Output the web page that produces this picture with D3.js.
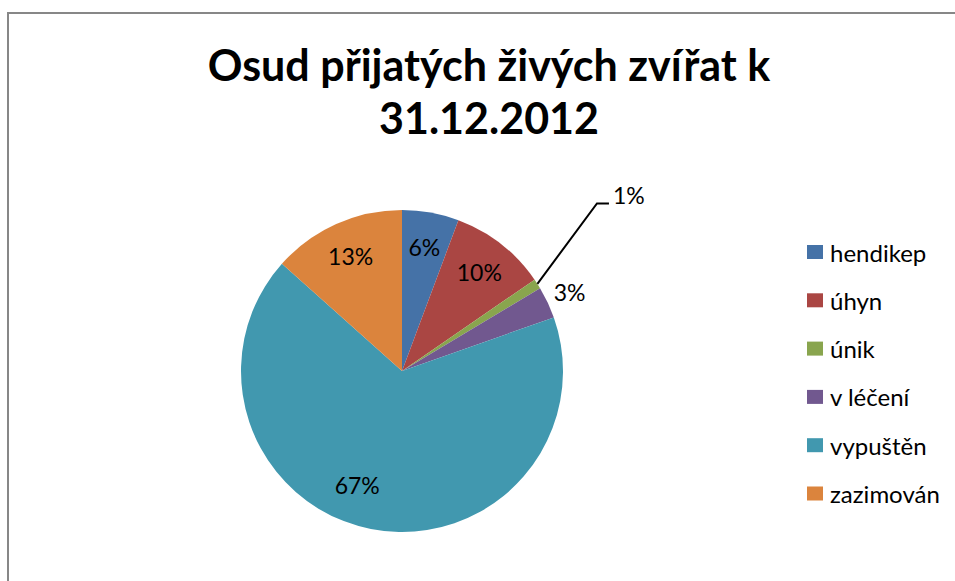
<!DOCTYPE html>
<html>
<head>
<meta charset="utf-8">
<script src="https://cdn.jsdelivr.net/npm/d3@7"></script>
<style>
    body { margin: 0; background: #fff; }
</style>
</head>
<body>
<div class="vis-piechart"></div>
<script>
const categories = ['hendikep', 'úhyn', 'únik', 'v léčení', 'vypuštěn', 'zazimován'];
const shares = [5.7, 9.7, 1.0, 3.2, 67.0, 13.4];
const colours = ['#4572A7', '#AA4643', '#89A54E', '#71588F', '#4198AF', '#DB843D'];
const titleLines = ['Osud přijatých živých zvířat k', '31.12.2012'];

const draw = (outerWidth, outerHeight) => {
    const dataset = categories.map((c, i) => ({label: c, count: shares[i]}));
    const total = d3.sum(dataset, d => d.count);

    d3.select('.vis-piechart > *').remove();

    let svg = d3.select('.vis-piechart')
        .append('svg')
        .attr('width', outerWidth)
        .attr('height', outerHeight)
        .style('display', 'block');

    // chart area frame (runs off the right and bottom of the picture)
    svg.append('rect')
        .attr('x', 8)
        .attr('y', 13)
        .attr('width', outerWidth + 20)
        .attr('height', outerHeight + 20)
        .attr('fill', '#fff')
        .attr('stroke', '#878787')
        .attr('stroke-width', 2);

    // title
    svg.append('text')
        .attr('text-anchor', 'middle')
        .style('font-family', 'Lato, "Open Sans", sans-serif')
        .style('font-weight', 'bold')
        .style('font-size', '43px')
        .attr('fill', '#000')
        .selectAll('tspan')
        .data(titleLines)
        .enter().append('tspan')
        .attr('x', 489)
        .attr('y', (d, i) => 81 + i * 53)
        .text(d => d);

    const cx = 402, cy = 371;
    const radius = 161;

    let g = svg.append('g')
        .attr('transform', 'translate(' + cx + ',' + cy + ')');

    let color = d3.scaleOrdinal()
        .domain(categories)
        .range(colours);

    let arc = d3.arc()
        .innerRadius(0)
        .outerRadius(radius);

    let pie = d3.pie()
        .value(d => d.count)
        .sort(null);

    const arcs = pie(dataset);

    g.selectAll('path')
        .data(arcs)
        .enter()
        .append('path')
        .attr('d', arc)
        .attr('fill', d => color(d.data.label));

    const pct = d => Math.round(d.data.count / total * 100) + '%';
    const mid = d => (d.startAngle + d.endAngle) / 2;

    // labels: inside for big slices, outside for small ones, leader for the tiniest
    g.selectAll('.lbl')
        .data(arcs)
        .enter().append('text')
        .attr('class', 'lbl')
        .style('font-family', 'Lato, "Open Sans", sans-serif')
        .style('font-size', '23px')
        .attr('fill', '#000')
        .attr('dominant-baseline', 'central')
        .attr('text-anchor', d => d.data.count < 2 ? 'start' : 'middle')
        .attr('transform', d => {
            let p;
            if (d.data.count < 2) {
                const e = d3.pointRadial(mid(d), radius);
                p = [e[0] + radius * 0.37 + 16, e[1] - radius * 0.5 - 8];
            } else if (d.data.count < 5) {
                p = d3.pointRadial(mid(d), radius * 1.15);
            } else if (d.data.count > 50) {
                // Excel nudges the big slice's label toward the lower left
                p = d3.pointRadial(mid(d) + 0.18, radius * 0.76);
            } else {
                p = d3.pointRadial(mid(d), radius * 0.78);
            }
            return 'translate(' + p[0] + ',' + p[1] + ')';
        })
        .text(pct);

    g.selectAll('.leader')
        .data(arcs.filter(d => d.data.count < 2))
        .enter().append('polyline')
        .attr('class', 'leader')
        .attr('fill', 'none')
        .attr('stroke', '#000')
        .attr('stroke-width', 2)
        .attr('points', d => {
            const e = d3.pointRadial(mid(d), radius);
            const k = [e[0] + radius * 0.37, e[1] - radius * 0.5];
            return [e, k, [k[0] + 12, k[1]]].map(p => p.join(',')).join(' ');
        });

    // legend
    let legendG = svg.selectAll('.legend')
        .data(arcs)
        .enter().append('g')
        .attr('class', 'legend')
        .attr('transform', (d, i) => 'translate(807,' + (252 + i * 48.3) + ')');

    legendG.append('rect')
        .attr('y', -7)
        .attr('width', 16)
        .attr('height', 14)
        .attr('fill', d => color(d.data.label));

    legendG.append('text')
        .text(d => d.data.label)
        .style('font-family', 'Lato, "Open Sans", sans-serif')
        .style('font-size', '24px')
        .attr('fill', '#000')
        .attr('dominant-baseline', 'central')
        .attr('x', 23);
};

draw(955, 581);
</script>
</body>
</html>
